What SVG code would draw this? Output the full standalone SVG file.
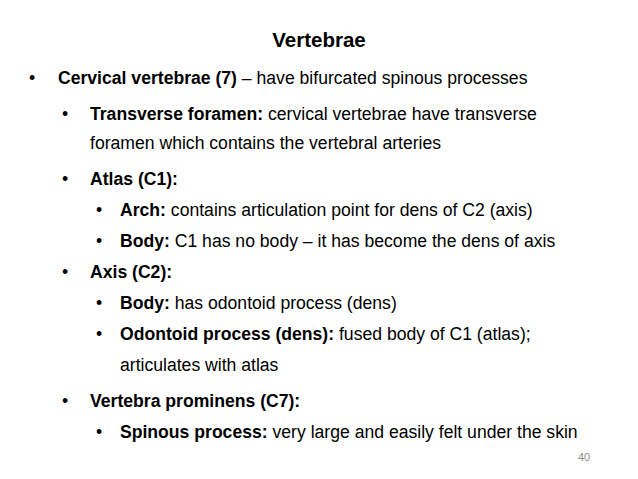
<svg xmlns="http://www.w3.org/2000/svg" width="638" height="479" viewBox="0 0 638 479">
<style>
text{font-family:"Liberation Sans",Arial,sans-serif;font-size:17.6px;fill:#000}
.b{font-weight:bold}
</style>
<rect width="638" height="479" fill="#fff"/>
<text x="319" y="47" text-anchor="middle" class="b" style="font-size:20.5px">Vertebrae</text>
<text x="29" y="84">•</text>
<text x="58" y="84"><tspan class="b">Cervical vertebrae (7)</tspan> – have bifurcated spinous processes</text>
<text x="62" y="120">•</text>
<text x="90" y="120"><tspan class="b">Transverse foramen:</tspan> cervical vertebrae have transverse</text>
<text x="90" y="149">foramen which contains the vertebral arteries</text>
<text x="62" y="185">•</text>
<text x="90" y="185" class="b">Atlas (C1):</text>
<text x="96" y="216">•</text>
<text x="120" y="216"><tspan class="b">Arch:</tspan> contains articulation point for dens of C2 (axis)</text>
<text x="96" y="247">•</text>
<text x="120" y="247"><tspan class="b">Body:</tspan> C1 has no body – it has become the dens of axis</text>
<text x="62" y="278">•</text>
<text x="90" y="278" class="b">Axis (C2):</text>
<text x="96" y="309">•</text>
<text x="120" y="309"><tspan class="b">Body:</tspan> has odontoid process  (dens)</text>
<text x="96" y="340">•</text>
<text x="120" y="340"><tspan class="b">Odontoid process (dens):</tspan> fused body of C1 (atlas);</text>
<text x="120" y="371">articulates with atlas</text>
<text x="62" y="407">•</text>
<text x="90" y="407" class="b">Vertebra prominens (C7):</text>
<text x="96" y="438">•</text>
<text x="120" y="438"><tspan class="b">Spinous process:</tspan> very large and easily felt under the skin</text>
<text x="578" y="461" style="font-size:11px;fill:#8c8c8c">40</text>
</svg>
